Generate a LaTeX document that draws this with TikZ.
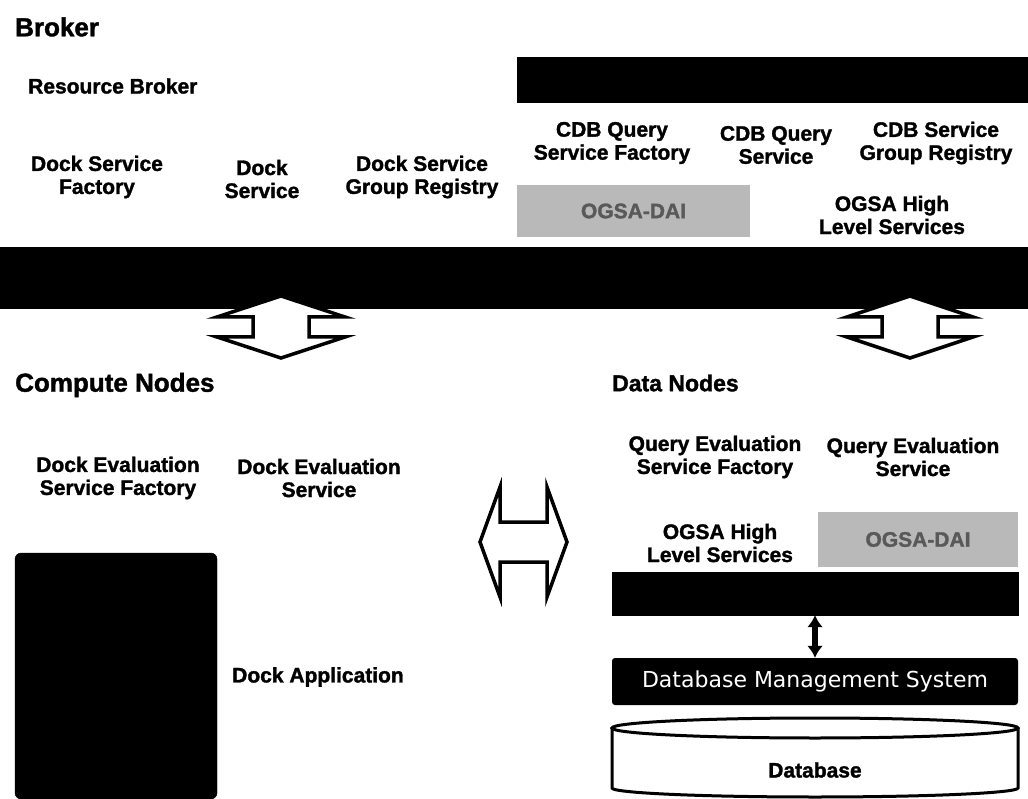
\documentclass[tikz,border=0pt]{standalone}
\usepackage{fontspec}
\setmainfont{Liberation Sans}[BoldFeatures={FakeBold=1.5}]
\newfontfamily\dejavu{DejaVu Sans}
\usetikzlibrary{calc,arrows.meta}
\tikzset{
heading/.style={font=\fontsize{26}{28}\selectfont\bfseries,anchor=west,inner sep=0pt},
svc/.style={font=\fontsize{21}{23}\selectfont\bfseries,align=center,inner sep=0pt},
blackbar/.style={fill=black,draw=black,inner sep=0pt},
daibox/.style={fill=gray!55,inner sep=0pt,font=\fontsize{21}{23}\selectfont\bfseries,text=black!65},
dbmsbox/.style={fill=black,rounded corners=3pt,inner sep=0pt,text=white,font=\dejavu\fontsize{22}{24}\selectfont},
blockarrow/.style={draw=black,fill=white,line width=3.5pt,line join=miter},
dbarrow/.style={{Latex[length=12pt,width=16pt]}-{Latex[length=12pt,width=16pt]},line width=6pt},
dbcyl/.style={draw=black,fill=white,line width=3pt}
}
\begin{document}
\begin{tikzpicture}[x=1pt,y=-1pt]
\useasboundingbox (0,0) rectangle (1028,799);
% broker
\node[heading] (broker) at (15,27) {Broker};
\node[svc,anchor=west] (resbroker) at (28,86) {Resource Broker};
\node[blackbar,minimum width=511pt,minimum height=45pt] (resbar) at (772.5,79.5) {};
\node[svc] (cdbfac) at (612,143) {CDB Query\\Service Factory};
\node[svc] (cdbsvc) at (776,145) {CDB Query\\Service};
\node[svc] (cdbreg) at (936,143) {CDB Service\\Group Registry};
\node[svc] (dockfac) at (97,177) {Dock Service\\Factory};
\node[svc] (docksvc) at (262,179) {Dock\\Service};
\node[svc] (dockreg) at (422,177) {Dock Service\\Group Registry};
\node[daibox,minimum width=233pt,minimum height=52pt] (daitop) at (633.5,211) {OGSA-DAI};
\node[svc] (ogsatop) at (892,215) {OGSA High\\Level Services};
\node[blackbar,minimum width=1028pt,minimum height=61pt] (mainbar) at (514,277.5) {};
% block arrows down to the nodes
\draw[blockarrow,shift={(281,327)}] (0,-31) -- (64,-10) -- (28,-10) -- (28,10) -- (64,10)
  -- (0,31) -- (-64,10) -- (-28,10) -- (-28,-10) -- (-64,-10) -- cycle;
\draw[blockarrow,shift={(910,327)}] (0,-31) -- (63,-10) -- (28,-10) -- (28,10) -- (63,10)
  -- (0,31) -- (-63,10) -- (-28,10) -- (-28,-10) -- (-63,-10) -- cycle;
% compute nodes
\node[heading] (compute) at (15,385) {Compute Nodes};
\node[svc] (evalfac) at (118,478) {Dock Evaluation\\Service Factory};
\node[svc] (evalsvc) at (319,478) {Dock Evaluation\\Service};
\node[blackbar,rounded corners=6pt,minimum width=202pt,minimum height=246pt] (dockbox) at (116,676) {};
\node[svc] (dockapp) at (318,677) {Dock Application};
% between compute and data
\draw[blockarrow,shift={(523.5,542)}] (-43.5,0) -- (-23.5,-55) -- (-23.5,-20) -- (23.5,-20) -- (23.5,-55)
  -- (43.5,0) -- (23.5,55) -- (23.5,20) -- (-23.5,20) -- (-23.5,55) -- cycle;
% data nodes
\node[heading,font=\fontsize{23}{25}\selectfont\bfseries] (data) at (612,383) {Data Nodes};
\node[svc] (qefac) at (715,457) {Query Evaluation\\Service Factory};
\node[svc] (qesvc) at (913,457) {Query Evaluation\\Service};
\node[svc] (ogsadata) at (720,543) {OGSA High\\Level Services};
\node[daibox,minimum width=200pt,minimum height=55pt] (daidata) at (918,539.5) {OGSA-DAI};
\node[blackbar,minimum width=406pt,minimum height=43pt] (databar) at (815,593.5) {};
\node[dbmsbox,minimum width=406pt,minimum height=47pt] (dbms) at (815,681.5) {Database Management System};
\draw[dbarrow] (databar.south) -- (dbms.north);
% database cylinder
\draw[dbcyl] (612,728) -- (612,788) arc[start angle=180,end angle=360,x radius=203pt,y radius=9pt]
  -- (1018,728);
\draw[dbcyl] (815,728) ellipse[x radius=203pt,y radius=10pt];
\node[svc] (db) at (815,770) {Database};
\end{tikzpicture}
\end{document}
